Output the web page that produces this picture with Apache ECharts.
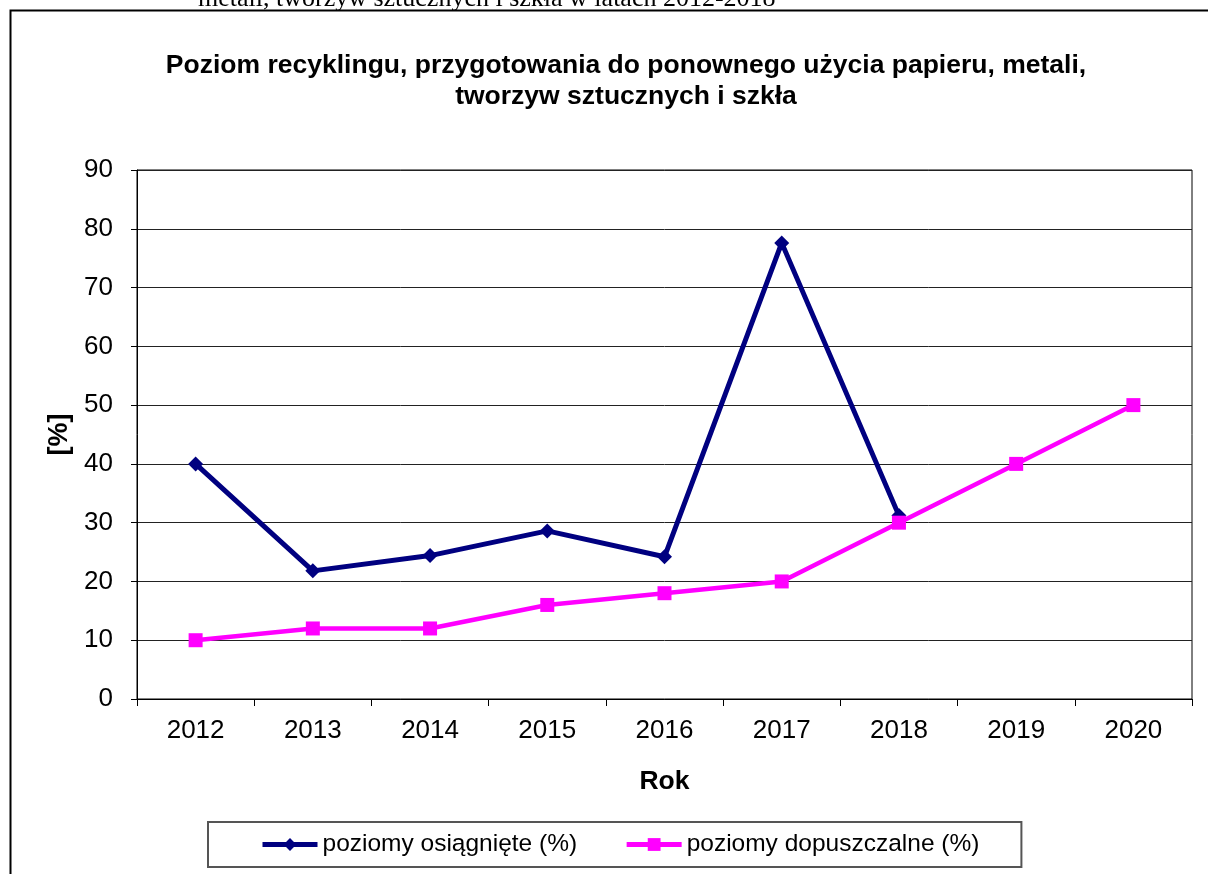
<!DOCTYPE html>
<html>
<head>
<meta charset="utf-8">
<script src="https://cdn.jsdelivr.net/npm/echarts@6/dist/echarts.min.js"></script>
<style>
html,body{margin:0;padding:0;background:#fff;}
#chart{width:1208px;height:874px;}
</style>
</head>
<body>
<div id="chart"></div>
<script>
const years = ['2012','2013','2014','2015','2016','2017','2018','2019','2020'];
const achieved = [40.0, 21.8, 24.4, 28.6, 24.2, 77.6, 31.2, null, null];
const allowed = [10, 12, 12, 16, 18, 20, 30, 40, 50];
const seriesNames = ['poziomy osiągnięte (%)', 'poziomy dopuszczalne (%)'];
const yTicks = [0, 10, 20, 30, 40, 50, 60, 70, 80, 90];

const chart = echarts.init(document.getElementById('chart'), null, {renderer: 'canvas'});
const font = 'Arial, "Liberation Sans", sans-serif';
chart.setOption({
  backgroundColor: '#fff',
  animation: false,
  title: {
    text: 'Poziom recyklingu, przygotowania do ponownego użycia papieru, metali,\ntworzyw sztucznych i szkła',
    left: 621, top: 45, textAlign: 'center',
    textStyle: {fontFamily: font, fontSize: 26.5, fontWeight: 'bold', color: '#000', lineHeight: 31}
  },
  graphic: [
    {type: 'rect', shape: {x: 10.5, y: 10.5, width: 1210, height: 880}, style: {fill: 'none', stroke: '#000', lineWidth: 2}, silent: true},
    {type: 'text', left: 198, top: -14, style: {text: 'metali, tworzyw sztucznych i szkła w latach 2012-2018', font: '26px "Liberation Serif", "Times New Roman", serif', fill: '#000'}}
  ],
  legend: {
    left: 208, top: 822,
    padding: [10, 42, 10, 52],
    itemGap: 47,
    itemWidth: 55, itemHeight: 16,
    borderColor: '#555', borderWidth: 2,
    lineStyle: {width: 5},
    textStyle: {fontFamily: font, fontSize: 24.5, color: '#000'},
    data: seriesNames
  },
  grid: {left: 137, right: 16, top: 170, bottom: 175, show: true, borderColor: '#000', borderWidth: 1, containLabel: false},
  xAxis: {
    type: 'category', data: years, boundaryGap: true,
    name: 'Rok', nameLocation: 'middle', nameGap: 69,
    nameTextStyle: {fontFamily: font, fontSize: 26.5, fontWeight: 'bold', color: '#000'},
    axisLine: {lineStyle: {color: '#000', width: 1}},
    axisTick: {show: true, length: 7, lineStyle: {color: '#000'}},
    axisLabel: {fontFamily: font, fontSize: 26, color: '#000', margin: 19}
  },
  yAxis: {
    type: 'value', min: 0, max: 90, interval: 10,
    name: '[%]', nameLocation: 'middle', nameGap: 61, nameRotate: 90,
    nameTextStyle: {fontFamily: font, fontSize: 27, fontWeight: 'bold', color: '#000'},
    axisLine: {show: true, lineStyle: {color: '#000', width: 1}},
    axisTick: {show: true, length: 6, lineStyle: {color: '#000'}},
    axisLabel: {fontFamily: font, fontSize: 26, color: '#000', margin: 24,
      formatter: v => yTicks.includes(v) ? String(v) : ''},
    splitLine: {show: true, lineStyle: {color: '#222', width: 1}}
  },
  series: [
    {name: seriesNames[0], type: 'line', data: achieved, connectNulls: false,
     symbol: 'diamond', symbolSize: 15, lineStyle: {color: '#000080', width: 5},
     itemStyle: {color: '#000080'}},
    {name: seriesNames[1], type: 'line', data: allowed,
     symbol: 'rect', symbolSize: 14, lineStyle: {color: '#FF00FF', width: 4.5},
     itemStyle: {color: '#FF00FF'}}
  ]
});
</script>
</body>
</html>
